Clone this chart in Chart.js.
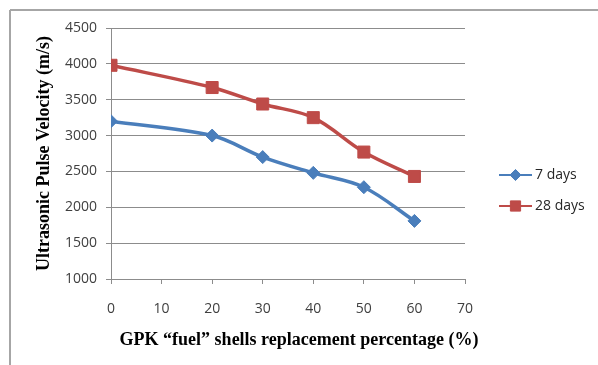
<!DOCTYPE html>
<html>
<head>
<meta charset="utf-8">
<script src="https://cdn.jsdelivr.net/npm/chart.js@4/dist/chart.umd.min.js"></script>
<style>
  html, body { margin: 0; padding: 0; background: #ffffff; }
  #wrap { width: 598px; height: 365px; position: relative; }
</style>
</head>
<body>
<div id="wrap"><canvas id="chart" width="598" height="365"></canvas></div>
<script>
// Replacement percentage of GPK "fuel" shells (x) and pulse velocity (m/s)
const replacement = [0, 20, 30, 40, 50, 60];
const velocity7 = [3200, 3000, 2700, 2480, 2280, 1810];
const velocity28 = [3980, 3670, 3440, 3250, 2770, 2430];
const seriesLabels = ['7 days', '28 days'];
const xTicks = [0, 10, 20, 30, 40, 50, 60, 70];
const yTicks = [1000, 1500, 2000, 2500, 3000, 3500, 4000, 4500];

const BLUE = '#4a7ebb';
const RED = '#be4b48';
const GRID = '#8c8c8c';

const toPoints = ys => replacement.map((x, i) => ({ x: x, y: ys[i] }));

// White sheet with the worksheet frame edges on top and left
const sheetFrame = {
  id: 'sheetFrame',
  beforeDraw(chart) {
    const ctx = chart.ctx;
    ctx.save();
    ctx.fillStyle = '#ffffff';
    ctx.fillRect(0, 0, chart.width, chart.height);
    ctx.strokeStyle = '#a6a6a6';
    ctx.lineWidth = 2;
    ctx.beginPath();
    ctx.moveTo(10, 10);
    ctx.lineTo(chart.width, 10);
    ctx.moveTo(10, 10);
    ctx.lineTo(10, chart.height);
    ctx.stroke();
    ctx.restore();
  }
};

// Legend on the right: short line with the series marker, then the label
const sideLegend = {
  id: 'sideLegend',
  afterDraw(chart) {
    const ctx = chart.ctx;
    ctx.save();
    chart.data.datasets.forEach((ds, i) => {
      const y = 175 + i * 31;
      ctx.strokeStyle = ds.borderColor;
      ctx.lineWidth = 2;
      ctx.beginPath();
      ctx.moveTo(499, y);
      ctx.lineTo(532, y);
      ctx.stroke();
      ctx.fillStyle = ds.backgroundColor;
      ctx.strokeStyle = ds.borderColor;
      ctx.lineWidth = 1;
      Chart.helpers.drawPoint(ctx, {
        pointStyle: ds.pointStyle,
        radius: ds.pointRadius * 0.85,
        borderWidth: 1
      }, 515.5, y);
      ctx.fillStyle = '#262626';
      ctx.font = '14px "Open Sans"';
      ctx.textAlign = 'left';
      ctx.textBaseline = 'middle';
      ctx.fillText(ds.label, 535, y);
    });
    ctx.restore();
  }
};

// Bottom axis title, centred under the tick labels
const xTitle = {
  id: 'xTitle',
  afterDraw(chart) {
    const ctx = chart.ctx;
    const t = chart.options.scales.x.title;
    ctx.save();
    ctx.fillStyle = '#000000';
    ctx.font = 'bold 18px "Liberation Serif"';
    ctx.textAlign = 'center';
    ctx.textBaseline = 'middle';
    ctx.fillText(t.text, 299, 340);
    ctx.restore();
  }
};

new Chart(document.getElementById('chart'), {
  type: 'line',
  data: {
    datasets: [
      {
        label: seriesLabels[0],
        data: toPoints(velocity7),
        borderColor: BLUE,
        backgroundColor: BLUE,
        borderWidth: 3.5,
        pointStyle: 'rectRot',
        pointRadius: 6.5,
        pointBorderWidth: 1,
        tension: 0.35
      },
      {
        label: seriesLabels[1],
        data: toPoints(velocity28),
        borderColor: RED,
        backgroundColor: RED,
        borderWidth: 3.5,
        pointStyle: 'rect',
        pointRadius: 8.5,
        pointBorderWidth: 1,
        tension: 0.35
      }
    ]
  },
  options: {
    responsive: false,
    animation: false,
    layout: { padding: { left: 0, right: 133, top: 28, bottom: 0 } },
    plugins: {
      legend: { display: false },
      tooltip: { enabled: false }
    },
    scales: {
      x: {
        type: 'linear',
        min: xTicks[0],
        max: xTicks[xTicks.length - 1],
        afterFit(scale) { scale.height = 86; },
        afterBuildTicks(scale) { scale.ticks = xTicks.map(v => ({ value: v })); },
        grid: { drawOnChartArea: false, drawTicks: true, tickLength: 5, color: GRID },
        border: { display: true, color: GRID, width: 1 },
        ticks: {
          color: '#404040',
          font: { family: 'Open Sans', size: 14 },
          padding: 17,
          maxRotation: 0,
          callback: v => String(v)
        },
        title: { display: false, text: 'GPK \u201cfuel\u201d shells replacement percentage (%)' }
      },
      y: {
        min: yTicks[0],
        max: yTicks[yTicks.length - 1],
        afterFit(scale) { scale.width = 111; },
        afterBuildTicks(scale) { scale.ticks = yTicks.map(v => ({ value: v })); },
        grid: { drawTicks: true, tickLength: 5, color: GRID, lineWidth: 1 },
        border: { display: true, color: GRID, width: 1 },
        ticks: {
          color: '#404040',
          font: { family: 'Open Sans', size: 14 },
          padding: 9,
          callback: v => String(v)
        },
        title: {
          display: true,
          text: 'Ultrasonic Pulse Velocity (m/s)',
          color: '#000000',
          font: { family: 'Liberation Serif', size: 18, weight: 'bold' },
          padding: { top: 34, bottom: 0 }
        }
      }
    }
  },
  plugins: [sheetFrame, sideLegend, xTitle]
});
</script>
</body>
</html>
